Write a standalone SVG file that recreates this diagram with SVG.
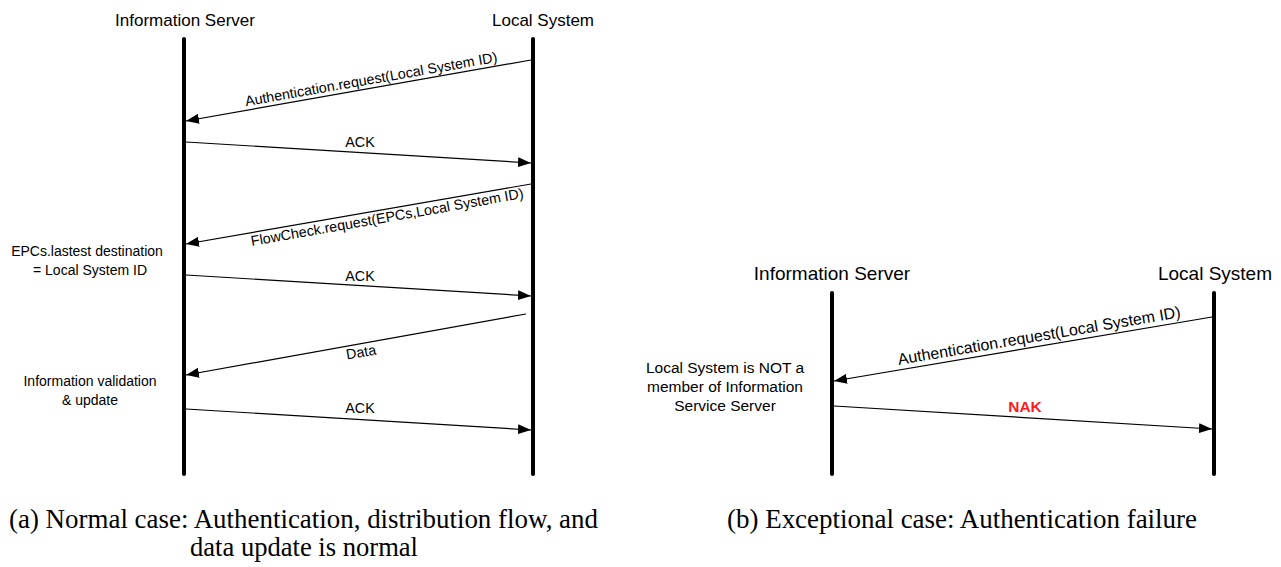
<svg xmlns="http://www.w3.org/2000/svg" width="1281" height="567" viewBox="0 0 1281 567">
<style>
.t{font-family:"Liberation Sans",Arial,sans-serif;fill:#000}
.h{font-size:17px;text-anchor:middle}
.h2{font-size:19px;text-anchor:middle}
.m{font-size:14.3px;text-anchor:middle}
.m2{font-size:16px;text-anchor:middle}
.n{font-size:14px;text-anchor:middle}
.n2{font-size:15.5px;text-anchor:middle}
.nak{fill:#ff1a1a;font-weight:bold;font-size:15.5px}
.cap{font-family:"Liberation Serif","Times New Roman",serif;font-size:26.5px;fill:#000}
.life{stroke:#000;stroke-width:4;stroke-linecap:round}
.msg{stroke:#000;stroke-width:1.2;fill:none;marker-end:url(#ah)}
</style>
<defs>
<marker id="ah" markerUnits="userSpaceOnUse" markerWidth="14" markerHeight="10" viewBox="0 0 14 10" refX="13" refY="5" orient="auto">
<path d="M0,0 L13,5 L0,10 Z" fill="#000"/>
</marker>
</defs>
<rect width="1281" height="567" fill="#fff"/>
<g id="a-server">
<text class="t h" x="185" y="26">Information Server</text>
<line class="life" x1="184" y1="39" x2="184" y2="474"/>
</g>
<g id="a-local">
<text class="t h" x="543" y="26">Local System</text>
<line class="life" x1="533" y1="39" x2="533" y2="474"/>
</g>
<g id="a-note1">
<text class="t n" x="87" y="256">EPCs.lastest destination</text>
<text class="t n" x="90" y="275">= Local System ID</text>
</g>
<g id="a-note2">
<text class="t n" x="90" y="386">Information validation</text>
<text class="t n" x="90" y="405">&amp; update</text>
</g>
<g id="b-server">
<text class="t h2" x="832" y="280">Information Server</text>
<line class="life" x1="832" y1="293" x2="832" y2="474"/>
</g>
<g id="b-local">
<text class="t h2" x="1215" y="280">Local System</text>
<line class="life" x1="1214" y1="293" x2="1214" y2="474"/>
</g>
<g id="b-note">
<text class="t n2" x="725" y="373">Local System is NOT a</text>
<text class="t n2" x="725" y="392">member of Information</text>
<text class="t n2" x="725" y="411">Service Server</text>
</g>
<g id="connectors">
<line class="msg" x1="531" y1="60" x2="186" y2="121"/>
<text class="t m" x="372" y="84" transform="rotate(-10 372 84)">Authentication.request(Local System ID)</text>
<line class="msg" x1="186" y1="142" x2="531" y2="163"/>
<text class="t m" x="360" y="147">ACK</text>
<line class="msg" x1="531" y1="184" x2="186" y2="244"/>
<text class="t m" x="388" y="222" transform="rotate(-10 388 222)">FlowCheck.request(EPCs,Local System ID)</text>
<line class="msg" x1="186" y1="275" x2="531" y2="296"/>
<text class="t m" x="360" y="281">ACK</text>
<line class="msg" x1="526" y1="314" x2="186" y2="375"/>
<text class="t m" x="362" y="357" transform="rotate(-10 362 357)">Data</text>
<line class="msg" x1="186" y1="409" x2="531" y2="430"/>
<text class="t m" x="360" y="413">ACK</text>
<line class="msg" x1="1212" y1="317" x2="834" y2="381"/>
<text class="t m2" x="1040" y="341" transform="rotate(-9.6 1040 341)">Authentication.request(Local System ID)</text>
<line class="msg" x1="834" y1="406" x2="1212" y2="429"/>
<text class="t m2 nak" x="1025" y="412">NAK</text>
</g>
<g id="captions">
<text class="cap" x="9" y="528" textLength="589" lengthAdjust="spacingAndGlyphs">(a) Normal case: Authentication, distribution flow, and</text>
<text class="cap" x="190" y="556" textLength="228" lengthAdjust="spacingAndGlyphs">data update is normal</text>
<text class="cap" x="727" y="528" textLength="470" lengthAdjust="spacingAndGlyphs">(b) Exceptional case: Authentication failure</text>
</g>
</svg>
